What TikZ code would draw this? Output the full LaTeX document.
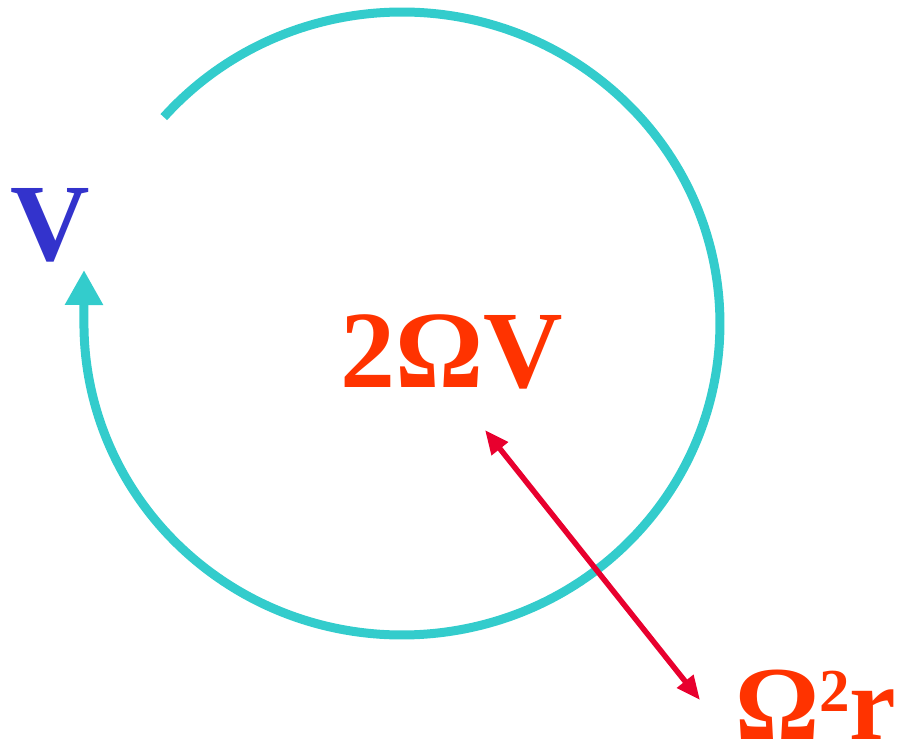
\documentclass[tikz,border=0pt]{standalone}
\usepackage{fontspec}
\setmainfont{Liberation Serif}
\usetikzlibrary{arrows.meta}
\definecolor{cteal}{HTML}{33CCCC}
\definecolor{cblue}{HTML}{3333CC}
\definecolor{corange}{HTML}{FF3300}
\definecolor{cred}{HTML}{E8002E}
\begin{document}
\begin{tikzpicture}[x=1pt,y=1pt,
  bigtext/.style={inner sep=0pt, font=\fontsize{110}{110}\selectfont\bfseries},
  orbit/.style={draw=cteal, line width=9pt, -{Triangle[width=36pt,length=35pt]}},
  force/.style={draw=cred, line width=5.5pt, {Triangle[width=20pt,length=24pt]}-{Triangle[width=20pt,length=24pt]}}]
\useasboundingbox (0,0) rectangle (901,748);
\coordinate (start) at (163.8,630.9);
\coordinate (tip) at (84,478);
\draw[orbit] (start) arc[start angle=138.5, end angle=-180, x radius=318, y radius=311.5] -- (tip);
\coordinate (a) at (485,318);
\coordinate (b) at (700,48);
\draw[force] (a) -- (b);
\node[bigtext, text=cblue] (v) at (50,523) {V};
\node[bigtext, text=corange] (cor) at (452,396) {2ΩV};
\node[bigtext, text=corange, anchor=base west, font=\fontsize{105}{105}\selectfont\bfseries] (cen) at (735,9) {Ω\raisebox{28pt}{\fontsize{61}{61}\selectfont 2}r};
\end{tikzpicture}
\end{document}
